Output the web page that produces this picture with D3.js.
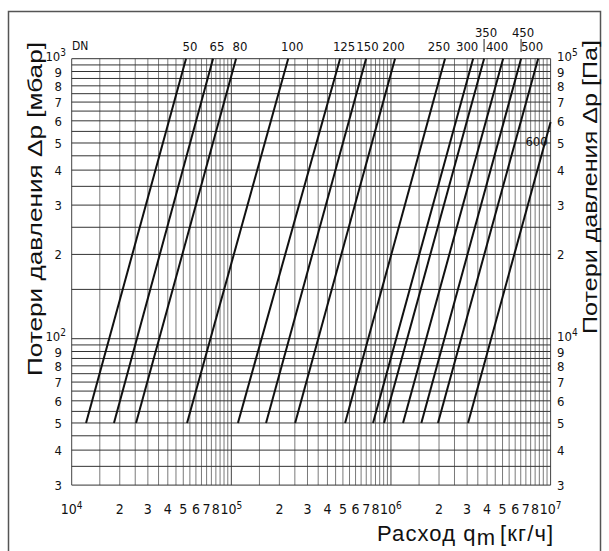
<!DOCTYPE html>
<html>
<head>
<meta charset="utf-8">
<script src="https://cdn.jsdelivr.net/npm/d3@7"></script>
<style>
body { margin: 0; background: #fff; }
svg text { font-family: "Liberation Sans Narrow", "DejaVu Sans Condensed", "Liberation Sans", sans-serif; fill: #111; }
</style>
</head>
<body>
<div id="chart"></div>
<script>
// nominal sizes of the fittings
var dnLabels = ["50", "65", "80", "100", "125", "150", "200", "250", "300", "350", "400", "450", "500", "600"];
// flow [kg/h] where each line starts (at 50 mbar)
var qStart = [1.23e4, 1.84e4, 2.53e4, 5.28e4, 1.10e5, 1.65e5, 2.51e5, 5.16e5, 7.72e5, 9.05e5, 1.19e6, 1.55e6, 1.97e6, 3.04e6];
// flow [kg/h] where each line ends
var qEnd = [5.20e4, 7.68e4, 1.07e5, 2.27e5, 4.80e5, 6.98e5, 1.06e6, 2.18e6, 3.27e6, 3.83e6, 5.04e6, 6.53e6, 8.35e6, 1.0e7];
var dpStart = [50, 50, 50, 50, 50, 50, 50, 50, 50, 50, 50, 50, 50, 50];
var dpEnd = [1000, 1000, 1000, 1000, 1000, 1000, 1000, 1000, 1000, 1000, 1000, 1000, 1000, 594];

// tick labels
var xTickVals = [1e4, 2e4, 3e4, 4e4, 5e4, 6e4, 7e4, 8e4, 1e5, 2e5, 3e5, 4e5, 5e5, 6e5, 7e5, 8e5, 1e6, 2e6, 3e6, 4e6, 5e6, 6e6, 7e6, 8e6, 1e7];
var yTickVals = [1000, 900, 800, 700, 600, 500, 400, 300, 200, 100, 90, 80, 70, 60, 50, 40, 30];

var svgWidth = 609;
var svgHeight = 551;

var svg = d3.select("#chart")
    .append("svg")
    .attr("width", svgWidth)
    .attr("height", svgHeight);

// outer frame
svg.append("rect")
    .attr("x", 8.5)
    .attr("y", 11.5)
    .attr("width", 592)
    .attr("height", 560)
    .attr("fill", "none")
    .attr("stroke", "#555")
    .attr("stroke-width", 1.5);

var xScale = d3.scaleLog().domain([1e4, 1e7]).range([71.7, 550.6]);
var yScale = d3.scaleLog().domain([30, 1000]).range([485.1, 58.7]);

// grid values: half steps in every decade
var xGrid = [];
[1e4, 1e5, 1e6].forEach(function(d) {
    for (var m = 1; m < 10; m += 0.5) xGrid.push(m * d);
});
xGrid.push(1e7);
var yGrid = [];
for (var v = 30; v <= 100; v += 5) yGrid.push(v);
for (var v = 150; v <= 1000; v += 50) yGrid.push(v);

var grid = svg.append("g");

grid.selectAll(".vline")
    .data(xGrid)
    .enter()
    .append("line")
    .attr("x1", d => xScale(d))
    .attr("x2", d => xScale(d))
    .attr("y1", yScale(1000))
    .attr("y2", yScale(30))
    .attr("stroke", d => (Math.abs(Math.log10(d) % 1) < 1e-6 ? "#444" : "#7a7a7a"))
    .attr("stroke-width", 1);

grid.selectAll(".hline")
    .data(yGrid)
    .enter()
    .append("line")
    .attr("x1", xScale(1e4))
    .attr("x2", xScale(1e7))
    .attr("y1", d => yScale(d))
    .attr("y2", d => yScale(d))
    .attr("stroke", "#333")
    .attr("stroke-width", 1);

// pressure drop lines
var lines = svg.append("g");
lines.selectAll("line")
    .data(dnLabels)
    .enter()
    .append("line")
    .attr("x1", (d, i) => xScale(qStart[i]))
    .attr("y1", (d, i) => yScale(dpStart[i]))
    .attr("x2", (d, i) => xScale(qEnd[i]))
    .attr("y2", (d, i) => yScale(dpEnd[i]))
    .attr("stroke", "#111")
    .attr("stroke-width", 2);

// DN labels at the top of the lines, nudged left as they get crowded
var raised = {"350": true, "450": true};
var dnGroup = svg.append("g");
dnLabels.forEach(function(dn, i) {
    var top = xScale(qEnd[i]);
    if (dn === "600") {
        dnGroup.append("text")
            .attr("x", top - 14)
            .attr("y", yScale(dpEnd[i]) + 19)
            .attr("text-anchor", "middle")
            .attr("dominant-baseline", "central")
            .attr("font-size", 13)
            .text(dn);
        return;
    }
    if (raised[dn]) {
        dnGroup.append("text")
            .attr("x", top + 2)
            .attr("y", 32)
            .attr("text-anchor", "middle")
            .attr("dominant-baseline", "central")
            .attr("font-size", 13)
            .text(dn);
        dnGroup.append("line")
            .attr("x1", top)
            .attr("x2", top)
            .attr("y1", 39)
            .attr("y2", 52)
            .attr("stroke", "#222")
            .attr("stroke-width", 1);
    } else {
        var off = 4 - 10 * Math.max(0, Math.min(1, (top - 340) / 100));
        dnGroup.append("text")
            .attr("x", top + off)
            .attr("y", 46)
            .attr("text-anchor", "middle")
            .attr("dominant-baseline", "central")
            .attr("font-size", 13)
            .text(dn);
    }
});
svg.append("text")
    .attr("x", 72)
    .attr("y", 46)
    .attr("dominant-baseline", "central")
    .attr("font-size", 12)
    .text("DN");

function isPow(v) {
    var e = Math.log10(v);
    return Math.abs(e - Math.round(e)) < 1e-6;
}

// writes "10" with a superscript, or a plain mantissa digit
function tickText(sel, v, base) {
    var e = Math.log10(v);
    if (isPow(v)) {
        sel.append("tspan").text("10");
        sel.append("tspan")
            .attr("dy", -5)
            .attr("font-size", 10)
            .text(Math.round(e) + base);
    } else {
        sel.text(Math.round(v / Math.pow(10, Math.floor(e + 1e-9))));
    }
}

// bottom axis labels
var xLabels = svg.append("g");
xTickVals.forEach(function(v) {
    var t = xLabels.append("text")
        .attr("x", xScale(v))
        .attr("y", 514)
        .attr("text-anchor", "middle")
        .attr("font-size", 14);
    tickText(t, v, 0);
});

// left axis labels [mbar]
var yLabels = svg.append("g");
yTickVals.forEach(function(v) {
    var t = yLabels.append("text")
        .attr("x", isPow(v) ? 66 : 62)
        .attr("y", yScale(v) + (isPow(v) ? 2 : 5))
        .attr("text-anchor", "end")
        .attr("font-size", 13);
    tickText(t, v, 0);
});

// right axis labels [Pa] = mbar * 100
var yLabelsR = svg.append("g");
yTickVals.forEach(function(v) {
    var t = yLabelsR.append("text")
        .attr("x", 557)
        .attr("y", yScale(v) + (isPow(v) ? 2 : 5))
        .attr("text-anchor", "start")
        .attr("font-size", 13);
    tickText(t, v, 2);
});

// axis titles
svg.append("text")
    .attr("transform", "translate(42, 209) rotate(-90)")
    .attr("text-anchor", "middle")
    .attr("font-size", 21)
    .attr("textLength", 334)
    .attr("lengthAdjust", "spacingAndGlyphs")
    .style("font-family", "'Liberation Sans', Arial, sans-serif")
    .text("Потери давления Δp [мбар]");

svg.append("text")
    .attr("transform", "translate(597, 187) rotate(-90)")
    .attr("text-anchor", "middle")
    .attr("font-size", 21)
    .attr("textLength", 294)
    .attr("lengthAdjust", "spacingAndGlyphs")
    .style("font-family", "'Liberation Sans', Arial, sans-serif")
    .text("Потери давления Δp [Па]");

var xTitle = svg.append("text")
    .attr("x", 377)
    .attr("y", 541)
    .attr("text-anchor", "start")
    .attr("font-size", 22)
    .attr("letter-spacing", 1.1)
    .style("font-family", "'Liberation Sans', Arial, sans-serif");
xTitle.append("tspan").text("Расход q");
xTitle.append("tspan").attr("dy", 4).text("m");
xTitle.append("tspan").attr("dy", -4).attr("dx", 4).text("[кг/ч]");
</script>
</body>
</html>
